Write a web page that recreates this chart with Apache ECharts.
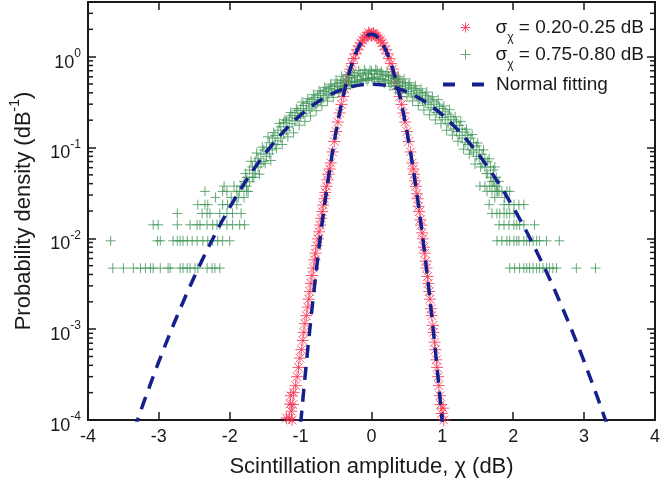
<!DOCTYPE html>
<html><head><meta charset="utf-8">
<script src="https://cdn.jsdelivr.net/npm/echarts@6/dist/echarts.min.js"></script>
<style>html,body{margin:0;padding:0;background:#fff}#c{width:663px;height:485px}</style>
</head><body><div id="c"></div>
<script>
// ---------- data ----------
const xTicks = [-4, -3, -2, -1, 0, 1, 2, 3, 4];
const yTickExps = [-4, -3, -2, -1, 0];
const yMin = 1e-4, yMax = 4;

const seriesNames = ['σχ = 0.20-0.25 dB', 'σχ = 0.75-0.80 dB', 'Normal fitting'];

// narrow normal fitting (σ ≈ 0.225 dB)
const fitNarrowX = [-1.0,-0.95,-0.9,-0.85,-0.8,-0.75,-0.7,-0.65,-0.6,-0.55,-0.5,-0.45,-0.4,-0.35,-0.3,-0.25,-0.2,-0.15,-0.1,-0.05,0,
  0.05,0.1,0.15,0.2,0.25,0.3,0.35,0.4,0.45,0.5,0.55,0.6,0.65,0.7,0.75,0.8,0.85,0.9,0.95,1.0];
const fitNarrowY = [0.0000912,0.000239,0.000595,0.001412,0.00319,0.00686,0.01403,0.02733,0.0507,0.0894,0.1501,0.2400,0.3651,0.529,0.729,0.956,1.194,1.420,1.606,1.730,1.773,
  1.730,1.606,1.420,1.194,0.956,0.729,0.529,0.3651,0.2400,0.1501,0.0894,0.0507,0.02733,0.01403,0.00686,0.00319,0.001412,0.000595,0.000239,0.0000912];

// wide normal fitting (σ ≈ 0.80 dB)
const fitWideX = [-3.35,-3.3,-3.2,-3.1,-3.0,-2.9,-2.8,-2.7,-2.6,-2.5,-2.4,-2.3,-2.2,-2.1,-2.0,-1.9,-1.8,-1.7,-1.6,-1.5,-1.4,-1.3,-1.2,-1.1,-1.0,-0.9,-0.8,-0.7,-0.6,-0.5,-0.4,-0.3,-0.2,-0.1,0,
  0.1,0.2,0.3,0.4,0.5,0.6,0.7,0.8,0.9,1.0,1.1,1.2,1.3,1.4,1.5,1.6,1.7,1.8,1.9,2.0,2.1,2.2,2.3,2.4,2.5,2.6,2.7,2.8,2.9,3.0,3.1,3.2,3.3,3.35];
const fitWideY = [0.0000776,0.0001006,0.0001673,0.0002736,0.000441,0.000699,0.001091,0.001676,0.002536,0.00378,0.00554,0.00799,0.01137,0.01591,0.02191,0.0297,0.0397,0.0522,0.0675,0.0860,0.1078,0.1331,0.1619,0.1937,0.2283,0.2649,0.3025,0.3400,0.3764,0.4102,0.4400,0.4648,0.4832,0.4948,0.4987,
  0.4948,0.4832,0.4648,0.4400,0.4102,0.3764,0.3400,0.3025,0.2649,0.2283,0.1937,0.1619,0.1331,0.1078,0.0860,0.0675,0.0522,0.0397,0.0297,0.02191,0.01591,0.01137,0.00799,0.00554,0.00378,0.002536,0.001676,0.001091,0.000699,0.000441,0.0002736,0.0001673,0.0001006,0.0000776];

// measured PDF, σχ = 0.20-0.25 dB
const redPoints = [
  [-1.20,0.000105],[-1.16,0.000105],[-1.15,0.000150],[-1.14,0.000185],[-1.13,0.000125],[-1.12,0.000100],[-1.11,0.000148],[-1.10,0.000200],
  [-1.07,0.000239],[-1.05,0.00030],[-1.03,0.000379],[-1.01,0.00048],[-0.99,0.000595],[-0.97,0.00075],[-0.955,0.000922],[-0.94,0.00115],
  [-0.92,0.00141],[-0.90,0.00175],[-0.885,0.00214],[-0.87,0.0026],[-0.855,0.00319],[-0.84,0.0039],[-0.82,0.00471],[-0.805,0.0058],
  [-0.79,0.00686],[-0.77,0.0083],[-0.755,0.00987],[-0.74,0.0118],[-0.725,0.0140],[-0.71,0.0166],[-0.695,0.0197],[-0.68,0.0232],
  [-0.665,0.0273],[-0.65,0.032],[-0.635,0.0374],[-0.62,0.044],[-0.61,0.0507],[-0.59,0.058],[-0.575,0.0677],[-0.55,0.0894],
  [-0.525,0.1165],[-0.5,0.150],[-0.475,0.191],[-0.45,0.240],[-0.425,0.298],[-0.4,0.365],[-0.375,0.442],[-0.35,0.529],[-0.325,0.625],
  [-0.3,0.729],[-0.275,0.840],[-0.25,0.956],[-0.225,1.075],[-0.2,1.194],[-0.175,1.310],[-0.15,1.420],[-0.125,1.519],[-0.1,1.606],
  [-0.075,1.677],[-0.05,1.730],[-0.04,1.85],[-0.025,1.762],[0,1.773],[0,1.70],[0.025,1.762],[0.03,1.82],[0.05,1.730],[0.075,1.677],
  [0.1,1.606],[0.125,1.519],[0.15,1.420],[0.175,1.310],[0.2,1.194],[0.225,1.075],[0.25,0.956],[0.275,0.840],[0.3,0.729],[0.325,0.625],
  [0.35,0.529],[0.375,0.442],[0.4,0.365],[0.425,0.298],[0.45,0.240],[0.475,0.191],[0.5,0.150],[0.525,0.1165],[0.55,0.0894],[0.575,0.0677],
  [0.59,0.058],[0.6,0.0507],[0.615,0.043],[0.625,0.0374],[0.64,0.031],[0.65,0.0273],[0.665,0.0225],[0.675,0.0197],[0.69,0.0160],[0.7,0.0140],
  [0.715,0.0115],[0.725,0.00987],[0.74,0.0080],[0.75,0.00686],[0.765,0.0056],[0.775,0.00471],[0.79,0.0038],[0.8,0.00319],[0.815,0.0026],
  [0.825,0.00214],[0.84,0.00168],[0.85,0.00141],[0.865,0.00110],[0.875,0.000922],[0.89,0.00072],[0.9,0.000595],[0.915,0.00046],
  [0.925,0.000379],[0.94,0.00030],[0.95,0.000239],[0.965,0.000185],[0.975,0.000148],[0.99,0.000118],[1.0,0.000091],[1.01,0.000135],[1.02,0.000100]
];

// measured PDF, σχ = 0.75-0.80 dB : dense central band
const greenBandX = [-1.80,-1.76,-1.72,-1.68,-1.64,-1.60,-1.56,-1.52,-1.48,-1.44,-1.40,-1.36,-1.32,-1.28,-1.24,-1.20,-1.16,-1.12,-1.08,-1.04,
  -1.00,-0.96,-0.92,-0.88,-0.84,-0.80,-0.76,-0.72,-0.68,-0.64,-0.60,-0.56,-0.52,-0.48,-0.44,-0.40,-0.36,-0.32,-0.28,-0.24,-0.20,-0.16,-0.12,-0.08,-0.04,
  0.00,0.04,0.08,0.12,0.16,0.20,0.24,0.28,0.32,0.36,0.40,0.44,0.48,0.52,0.56,0.60,0.64,0.68,0.72,0.76,0.80,0.84,0.88,0.92,0.96,
  1.00,1.04,1.08,1.12,1.16,1.20,1.24,1.28,1.32,1.36,1.40,1.44,1.48,1.52,1.56,1.60,1.64,1.68,1.72,1.76,1.80];
const greenBandY1 = [0.0423,0.047,0.0564,0.047,0.0705,0.061,0.0846,0.0705,0.099,0.113,0.094,0.136,0.155,0.127,0.188,0.155,0.212,0.183,0.240,0.211,
  0.268,0.236,0.305,0.266,0.338,0.296,0.372,0.333,0.413,0.372,0.447,0.400,0.480,0.437,0.520,0.470,0.555,0.500,0.590,0.535,0.610,0.555,0.630,0.570,0.650,
  0.590,0.640,0.600,0.660,0.560,0.620,0.540,0.595,0.505,0.560,0.470,0.520,0.440,0.485,0.395,0.445,0.365,0.405,0.330,0.372,0.296,0.335,0.262,0.300,0.232,
  0.268,0.202,0.232,0.177,0.202,0.150,0.175,0.127,0.148,0.108,0.127,0.089,0.104,0.0752,0.0846,0.061,0.0705,0.047,0.0564,0.047,0.0423];
const greenBandY2 = [0.0376,0.0376,0.042,0.061,0.052,0.0752,0.066,0.094,0.080,0.085,0.127,0.108,0.118,0.169,0.141,0.197,0.169,0.225,0.197,0.255,
  0.220,0.290,0.255,0.320,0.280,0.356,0.312,0.395,0.350,0.430,0.385,0.470,0.420,0.505,0.455,0.545,0.485,0.580,0.520,0.620,0.540,0.650,0.560,0.665,0.575,
  0.690,0.570,0.700,0.575,0.640,0.550,0.610,0.515,0.575,0.480,0.540,0.450,0.500,0.415,0.462,0.378,0.425,0.342,0.390,0.310,0.350,0.275,0.318,0.243,0.282,
  0.214,0.247,0.185,0.218,0.160,0.190,0.136,0.160,0.113,0.136,0.094,0.113,0.080,0.094,0.066,0.0752,0.0517,0.061,0.0423,0.0376,0.0329];
// outer scatter of the same band (half-step positions)
const greenOuterX = [-1.78,-1.74,-1.70,-1.66,-1.62,-1.58,-1.54,-1.50,-1.46,-1.42,-1.38,-1.34,-1.30,-1.26,-1.22,-1.18,-1.14,-1.10,-1.06,-1.02,
  -0.98,-0.94,-0.90,-0.86,-0.82,-0.78,-0.74,-0.70,-0.66,-0.62,-0.58,-0.54,-0.50,-0.46,-0.42,-0.38,-0.34,-0.30,-0.26,-0.22,-0.18,-0.14,-0.10,-0.06,-0.02,
  0.02,0.06,0.10,0.14,0.18,0.22,0.26,0.30,0.34,0.38,0.42,0.46,0.50,0.54,0.58,0.62,0.66,0.70,0.74,0.78,0.82,0.86,0.90,0.94,0.98,
  1.02,1.06,1.10,1.14,1.18,1.22,1.26,1.30,1.34,1.38,1.42,1.46,1.50,1.54,1.58,1.62,1.66,1.70,1.74,1.78];
const greenOuterY = [0.0517,0.0329,0.0705,0.047,0.087,0.0508,0.101,0.067,0.131,0.072,0.146,0.098,0.184,0.108,0.202,0.131,0.243,0.145,0.268,0.176,
  0.317,0.194,0.344,0.223,0.382,0.254,0.421,0.289,0.460,0.324,0.497,0.357,0.554,0.401,0.608,0.445,0.638,0.488,0.672,0.519,0.705,0.540,0.717,0.547,0.708,
  0.558,0.721,0.534,0.688,0.511,0.682,0.473,0.641,0.433,0.601,0.399,0.570,0.361,0.515,0.325,0.479,0.290,0.442,0.259,0.408,0.229,0.363,0.201,0.336,0.183,
  0.287,0.155,0.261,0.137,0.218,0.117,0.194,0.0958,0.159,0.0846,0.139,0.0658,0.112,0.0611,0.0940,0.0517,0.0752,0.0423,0.0611,0.0329];

// measured PDF, σχ = 0.75-0.80 dB : quantised tails (1..8 counts)
const greenRowLevels = [0.0047, 0.0094, 0.0141, 0.0188, 0.0235, 0.0282, 0.0329, 0.0376];
const greenRowX = [
  [-3.65,-3.50,-3.36,-3.26,-3.19,-3.12,-3.08,-2.98,-2.87,-2.84,-2.70,-2.66,-2.60,-2.56,-2.49,-2.45,-2.32,-2.25,-2.21,-2.14,
    1.95,2.02,2.09,2.15,2.19,2.23,2.28,2.33,2.37,2.42,2.47,2.51,2.56,2.61,2.89,3.16],
  [-3.68,-3.02,-2.98,-2.80,-2.74,-2.70,-2.66,-2.60,-2.53,-2.46,-2.38,-2.31,-2.24,-2.17,-2.10,-2.00,
    1.77,1.84,1.91,1.95,2.01,2.05,2.08,2.15,2.19,2.23,2.28,2.33,2.37,2.47,2.65],
  [-3.08,-3.01,-2.74,-2.56,-2.46,-2.42,-2.32,-2.24,-2.18,-2.14,-2.04,-1.96,-1.86,-1.79,
    1.80,1.87,1.94,2.01,2.05,2.09,2.15,2.30],
  [-2.74,-2.39,-2.32,-2.28,-2.14,-2.04,-1.96,-1.84, 1.70,1.77,1.81,1.87,1.91,1.95,2.01],
  [-2.45,-2.35,-2.31,-2.10,-2.03,-1.90, 1.66,1.87,1.94,2.01,2.08,2.15],
  [-2.20,-1.98,-1.88,-1.80, 1.74,1.88],
  [-2.35,-2.10,-2.04,-1.90,-1.86,-1.76, 1.63,1.70,1.77,1.84,1.91,1.95],
  [-2.08,-1.94,-1.84, 1.53,1.60,1.67,1.74]
];

// ---------- styling ----------
const RED = '#f72d4d', GREEN = '#3f9556', NAVY = '#14208e', INK = '#1a1a1a';
const FONT = "'Liberation Sans', Arial, sans-serif";
const ASTER = 'path://M0,-5L0,5M-5,0L5,0M-3.6,-3.6L3.6,3.6M-3.6,3.6L3.6,-3.6';
const PLUS = 'path://M0,-5L0,5M-5,0L5,0';
const DASH = 'path://M0,0H12V4H0ZM29,0H41V4H29Z';

const fitNarrow = fitNarrowX.map((x, i) => [x, fitNarrowY[i]]);
const fitWide = fitWideX.map((x, i) => [x, fitWideY[i]]);
const greenPoints = [];
greenBandX.forEach((x, i) => { greenPoints.push([x, greenBandY1[i]]); greenPoints.push([x, greenBandY2[i]]); });
greenOuterX.forEach((x, i) => greenPoints.push([x, greenOuterY[i]]));
greenRowLevels.forEach((lv, r) => greenRowX[r].forEach(x => greenPoints.push([x, lv])));

const minorVals = [];
yTickExps.forEach(e => { for (let m = 2; m <= 9; m++) { const v = m * Math.pow(10, e); if (v <= yMax) minorVals.push([0, v]); } });

const legendRich = {
  w: { width: 20, lineHeight: 36, verticalAlign: 'middle' },
  w2: { width: 7, lineHeight: 36, verticalAlign: 'middle' },
  p: { fontSize: 19, fontFamily: FONT, color: INK, lineHeight: 36, verticalAlign: 'middle' },
  sub: { fontSize: 12, fontFamily: FONT, color: INK, lineHeight: 12, verticalAlign: 'middle', padding: [21, 0, 0, 0] },
  m: { fontSize: 19, fontFamily: FONT, color: INK, lineHeight: 36, verticalAlign: 'middle' }
};
const legendFmt = {};
legendFmt[seriesNames[0]] = '{w| }{p|σ}{sub|χ}{m| = 0.20-0.25 dB}';
legendFmt[seriesNames[1]] = '{w| }{p|σ}{sub|χ}{m| = 0.75-0.80 dB}';
legendFmt[seriesNames[2]] = '{w2| }{p|Normal fitting}';

function mkLegend(name, icon, itemStyle, left, top, w) {
  return {
    data: [{ name: name, icon: icon, itemStyle: itemStyle }],
    left: left, top: top, padding: 0, itemWidth: w, itemHeight: 10,
    selectedMode: false, symbolKeepAspect: true,
    formatter: n => legendFmt[n],
    textStyle: { rich: legendRich, fontFamily: FONT, fontSize: 19, color: INK }
  };
}

const chart = echarts.init(document.getElementById('c'), null, { renderer: 'canvas' });
chart.setOption({
  animation: false,
  backgroundColor: '#fff',
  grid: { left: 87, right: 3, top: 2, bottom: 65 },
  legend: [
    mkLegend(seriesNames[0], ASTER, { color: 'rgba(0,0,0,0)', borderColor: RED, borderWidth: 1 }, 460, 11, 10),
    mkLegend(seriesNames[1], PLUS, { color: 'rgba(0,0,0,0)', borderColor: GREEN, borderWidth: 1 }, 460, 38, 10),
    mkLegend(seriesNames[2], DASH, { color: NAVY, borderWidth: 0 }, 443, 75, 41)
  ],
  xAxis: [
    { type: 'value', min: xTicks[0], max: xTicks[xTicks.length - 1], interval: 1, position: 'bottom',
      name: 'Scintillation amplitude, χ (dB)', nameLocation: 'middle', nameGap: 36,
      nameTextStyle: { fontFamily: FONT, fontSize: 22, color: INK },
      axisLine: { show: true, onZero: false, lineStyle: { color: INK, width: 2 } },
      axisTick: { show: true, inside: true, length: 8, lineStyle: { color: INK, width: 1.5 } },
      axisLabel: { fontFamily: FONT, fontSize: 18, color: INK, margin: 8 },
      splitLine: { show: false } },
    { type: 'value', min: xTicks[0], max: xTicks[xTicks.length - 1], interval: 1, position: 'top',
      axisLine: { show: true, onZero: false, lineStyle: { color: INK, width: 2 } },
      axisTick: { show: true, inside: true, length: 8, lineStyle: { color: INK, width: 1.5 } },
      axisLabel: { show: false }, splitLine: { show: false } }
  ],
  yAxis: [
    { type: 'log', logBase: 10, min: yMin, max: yMax, position: 'left',
      name: '{a|Probability density (dB}{s|-1}{a|)}', nameLocation: 'middle', nameGap: 53, nameRotate: 90,
      nameTextStyle: { rich: {
        a: { fontFamily: FONT, fontSize: 22, color: INK, lineHeight: 27, verticalAlign: 'top', padding: [5, 0, 0, 0] },
        s: { fontFamily: FONT, fontSize: 14, color: INK, lineHeight: 14, verticalAlign: 'top' } } },
      axisLine: { show: true, onZero: false, lineStyle: { color: INK, width: 2 } },
      axisTick: { show: true, inside: true, length: 8, lineStyle: { color: INK, width: 1.5 } },
      axisLabel: { margin: 7, formatter: v => {
          const e = Math.round(Math.log10(v));
          if (Math.abs(Math.log10(v) - e) > 1e-6 || yTickExps.indexOf(e) < 0) return '';
          return '{b|10}{s|' + e + '}';
        },
        rich: {
          b: { fontFamily: FONT, fontSize: 18, color: INK, lineHeight: 18, verticalAlign: 'top', padding: [6, 0, 0, 0] },
          s: { fontFamily: FONT, fontSize: 12, color: INK, lineHeight: 12, verticalAlign: 'top' } } },
      splitLine: { show: false } },
    { type: 'log', logBase: 10, min: yMin, max: yMax, position: 'right',
      axisLine: { show: true, onZero: false, lineStyle: { color: INK, width: 2 } },
      axisTick: { show: true, inside: true, length: 8, lineStyle: { color: INK, width: 1.5 } },
      axisLabel: { show: false }, splitLine: { show: false } }
  ],
  series: [
    { name: seriesNames[0], type: 'scatter', data: redPoints, symbol: ASTER, symbolSize: 12,
      itemStyle: { color: 'rgba(0,0,0,0)', borderColor: RED, borderWidth: 1 }, z: 2 },
    { name: seriesNames[1], type: 'scatter', data: greenPoints, symbol: PLUS, symbolSize: 10,
      itemStyle: { color: 'rgba(0,0,0,0)', borderColor: GREEN, borderWidth: 1 }, z: 3 },
    { name: seriesNames[2], type: 'line', data: fitNarrow, showSymbol: false, symbol: 'none',
      lineStyle: { color: NAVY, width: 3.5, type: [13, 9] }, itemStyle: { color: NAVY }, z: 4 },
    { name: seriesNames[2], type: 'line', data: fitWide, showSymbol: false, symbol: 'none',
      lineStyle: { color: NAVY, width: 3.5, type: [13, 9] }, itemStyle: { color: NAVY }, z: 4 },
    { type: 'custom', data: minorVals, z: 6, silent: true, clip: false,
      renderItem: (params, api) => {
        const v = api.value(1);
        const pl = api.coord([xTicks[0], v]);
        const pr = api.coord([xTicks[xTicks.length - 1], v]);
        return { type: 'group', children: [
          { type: 'line', shape: { x1: pl[0], y1: pl[1], x2: pl[0] + 5, y2: pl[1] }, style: { stroke: INK, lineWidth: 1.5 } },
          { type: 'line', shape: { x1: pr[0], y1: pr[1], x2: pr[0] - 5, y2: pr[1] }, style: { stroke: INK, lineWidth: 1.5 } }
        ] };
      } }
  ]
});
</script></body></html>
